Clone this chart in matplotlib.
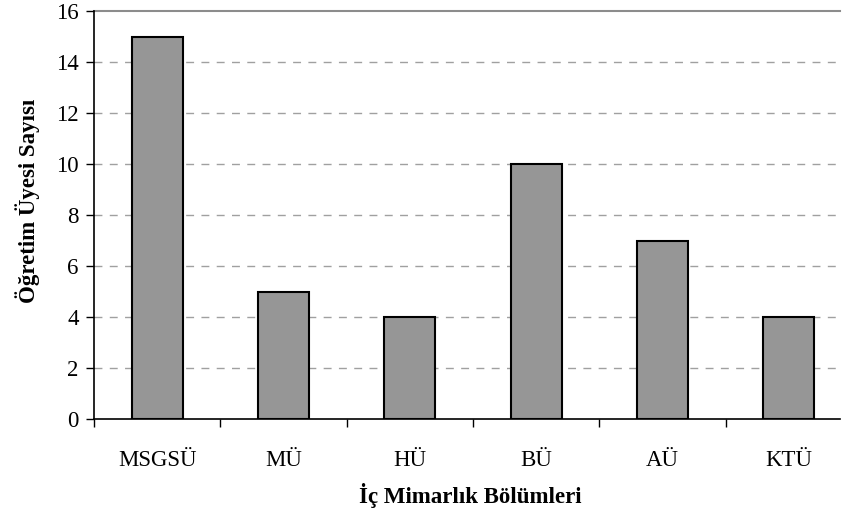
import matplotlib
matplotlib.use('Agg')
import matplotlib.pyplot as plt
import numpy as np

# data
departments = ['MSGSÜ', 'MÜ', 'HÜ', 'BÜ', 'AÜ', 'KTÜ']
faculty_counts = [15, 5, 4, 10, 7, 4]
y_ticks = [0, 2, 4, 6, 8, 10, 12, 14, 16]

plt.rcParams['font.family'] = ['Liberation Serif', 'DejaVu Serif']

fig = plt.figure(figsize=(8.46, 5.17), dpi=100)
# the plot area runs a little past the right edge of the picture, as in the reference
ax = fig.add_axes([0.1111, 0.1896, 0.896, 0.789])

x = np.arange(len(departments))
ax.bar(x, faculty_counts, width=0.405, color='#969696', edgecolor='black',
       linewidth=1.5, zorder=3)

ax.set_xlim(-0.5, len(departments) - 0.5)
ax.set_ylim(0, 16)
ax.set_yticks(y_ticks)
ax.tick_params(axis='y', direction='out', length=6, width=1, labelsize=16.5, pad=5)

# category labels centered, tick marks between categories
ax.set_xticks(x)
ax.set_xticklabels(departments, fontsize=16.5)
ax.tick_params(axis='x', which='major', length=0, pad=22)
ax.set_xticks(np.arange(len(departments) + 1) - 0.5, minor=True)
ax.tick_params(axis='x', which='minor', direction='out', length=6, width=1)

# dashed gridlines, solid one at the top
grid_end = 0.984
for v in y_ticks[1:-1]:
    ax.axhline(v, xmax=grid_end, color='#a0a0a0', linestyle=(0, (5.7, 5.3)),
               linewidth=1, zorder=1)
ax.axhline(16, xmax=grid_end, color='#8c8c8c', linewidth=1.5, zorder=1, clip_on=False)

ax.spines['top'].set_visible(False)
ax.spines['right'].set_visible(False)
ax.spines['left'].set_linewidth(1.2)
ax.spines['bottom'].set_linewidth(1.2)
ax.spines['bottom'].set_bounds(-0.5, -0.5 + grid_end * len(departments))

ax.set_xlabel('İç Mimarlık Bölümleri', fontsize=16.5, fontweight='bold')
ax.set_ylabel('Öğretim Üyesi Sayısı', fontsize=16.5, fontweight='bold')
ax.xaxis.set_label_coords(0.497, -0.157)
ax.yaxis.set_label_coords(-0.071, 0.534)

fig.savefig('out.png', dpi=100)
plt.close(fig)
